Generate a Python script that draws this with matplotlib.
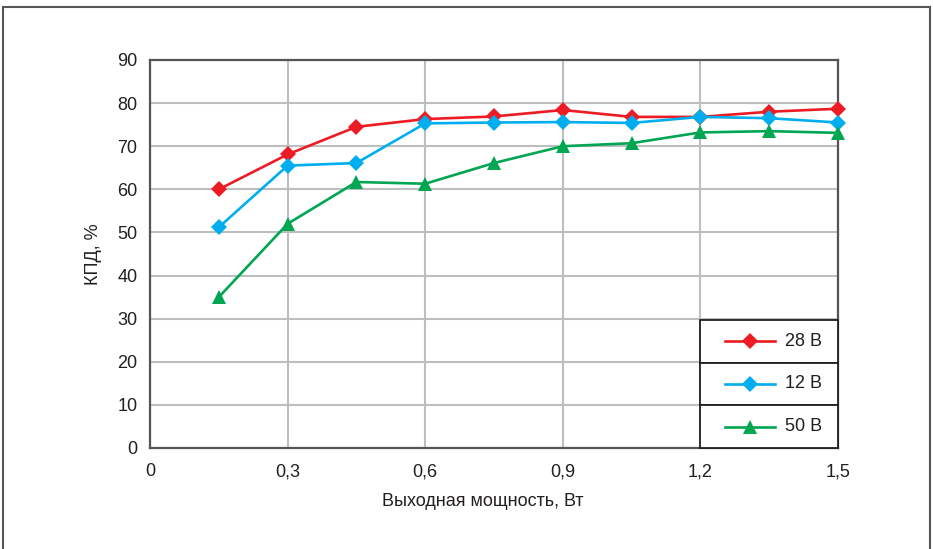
import matplotlib
matplotlib.use("Agg")
import matplotlib.pyplot as plt
from matplotlib.patches import Rectangle
from matplotlib.lines import Line2D

plt.rcParams['font.family'] = ['Liberation Sans', 'DejaVu Sans']

power = [0.15, 0.3, 0.45, 0.6, 0.75, 0.9, 1.05, 1.2, 1.35, 1.5]
eff_28 = [60.0, 68.1, 74.5, 76.3, 76.9, 78.4, 76.8, 76.8, 78.0, 78.7]
eff_12 = [51.2, 65.5, 66.1, 75.3, 75.5, 75.6, 75.4, 76.8, 76.5, 75.5]
eff_50 = [35.0, 52.0, 61.7, 61.3, 66.1, 70.0, 70.7, 73.2, 73.5, 73.1]
series_labels = ['28 В', '12 В', '50 В']
xticks = [0, 0.3, 0.6, 0.9, 1.2, 1.5]
xtick_labels = ['0', '0,3', '0,6', '0,9', '1,2', '1,5']
yticks = list(range(0, 100, 10))

RED = '#ed1c24'
BLUE = '#00aeef'
GREEN = '#00a651'
TXT = '#231f20'
FS = 13

fig = plt.figure(figsize=(9.33, 5.49), dpi=100)
# outer frame
fig.patches.append(Rectangle((3/933, -0.05), 927/933, 1 - 7/549 + 0.05,
                             transform=fig.transFigure, fill=False,
                             edgecolor='#555555', linewidth=1.5))

ax = fig.add_axes([150/933, 1 - 448/549, 688/933, 388/549])
ax.set_xlim(0, 1.5)
ax.set_ylim(0, 90)
ax.set_xticks(xticks)
ax.set_xticklabels(xtick_labels)
ax.set_yticks(yticks)
ax.grid(True, color='#bcbec0', linewidth=1.5)
ax.set_axisbelow(True)
for s in ax.spines.values():
    s.set_color('#555555')
    s.set_linewidth(1.6)
ax.tick_params(axis='y', length=0, labelsize=FS, pad=9, colors=TXT)
ax.tick_params(axis='x', length=0, labelsize=FS, pad=11, colors=TXT)
ax.set_xlabel('Выходная мощность, Вт', fontsize=FS, color=TXT, labelpad=10)
ax.xaxis.set_label_coords(0.484, -0.115)
ax.set_ylabel('КПД, %', fontsize=FS, color=TXT, labelpad=11)

styles = [(eff_28, RED, 'D', 8.3), (eff_12, BLUE, 'D', 8.3), (eff_50, GREEN, '^', 9.5)]
for (vals, col, mk, ms) in styles:
    ax.plot(power, vals, color=col, linewidth=1.9, marker=mk, markersize=ms,
            markeredgewidth=0, clip_on=False, zorder=3)

# legend boxes
h = 0.11
for i, ((vals, col, mk, ms), lab) in enumerate(zip(styles, series_labels)):
    y0 = 0.33 - h * (i + 1)
    ax.add_patch(Rectangle((0.8, y0), 0.2, h, transform=ax.transAxes,
                           facecolor='white', edgecolor=TXT,
                           linewidth=1.3, zorder=4, clip_on=False))
    yc = y0 + h / 2
    ax.add_line(Line2D([0.836, 0.908], [yc, yc], transform=ax.transAxes,
                       color=col, linewidth=1.9, zorder=5))
    ax.add_line(Line2D([0.872], [yc], transform=ax.transAxes, color=col,
                       marker=mk, markersize=ms, markeredgewidth=0, zorder=5))
    ax.text(0.923, yc, lab, transform=ax.transAxes, fontsize=FS,
            color=TXT, va='center', ha='left', zorder=6)

fig.savefig('out.png', dpi=100)
